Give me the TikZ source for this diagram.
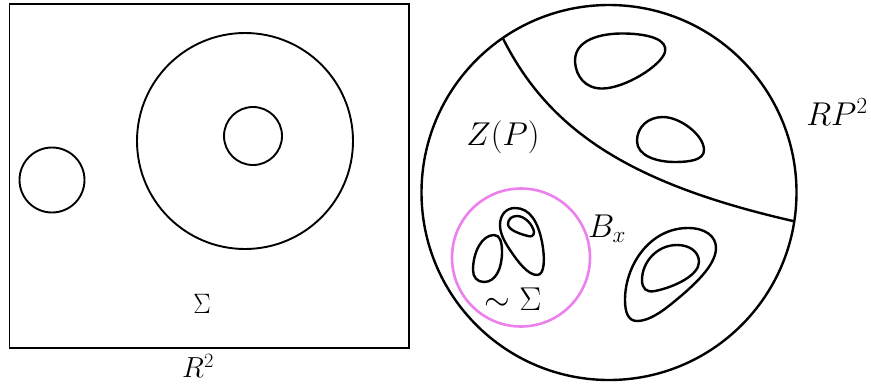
\documentclass[tikz,border=0pt]{standalone}
\usepackage{fix-cm}
\tikzset{
  curve/.style={line width=2.4pt, black},
  thin curve/.style={line width=1.9pt, black},
  pinkring/.style={line width=2.6pt, draw={rgb,255:red,236;green,128;blue,236}},
  sigmalabel/.style={inner sep=0pt, font=\fontsize{26}{31}\selectfont, yscale=1.08},
  planelabel/.style={inner sep=0pt, font=\fontsize{29}{35}\selectfont},
  biglabel/.style={inner sep=0pt, font=\fontsize{33}{40}\selectfont}
}
\begin{document}
\begin{tikzpicture}[x=1pt,y=-1pt]
\useasboundingbox (0,0) rectangle (871,386);
% left panel
\draw[thin curve] (9.5,4) rectangle (409,348);
\draw[thin curve] (52,180) circle[radius=32.5];
\draw[thin curve] (245,141) circle[radius=108];
\draw[thin curve] (253,136) circle[radius=29];
\node[planelabel] (r2) at (198,366) {$R^2$};
% right panel
\draw[curve] (609,192.5) circle[radius=187.5];
\draw[curve] (502.5,37.5) .. controls (549,131) and (631,184) .. (793,221);
% upper ovals
\draw[curve] (575,62) .. controls (574,40) and (600,33) .. (625,33.5)
  .. controls (650,34) and (668,40) .. (665,52)
  .. controls (661,66) and (625,88) .. (603,88.5)
  .. controls (585,89) and (576,76) .. (575,62) -- cycle;
\draw[curve] (637,141) .. controls (637,127) and (648,117) .. (663,117)
  .. controls (680,117) and (704,135) .. (704,150)
  .. controls (704,160) and (690,162) .. (675,162)
  .. controls (655,162) and (637,155) .. (637,141) -- cycle;
% nested ovals
\draw[curve] (625,300) .. controls (625,265) and (650,228) .. (688,228)
  .. controls (705,228) and (716,236) .. (716,248)
  .. controls (716,265) and (695,285) .. (670,305)
  .. controls (655,317) and (645,321) .. (637,321)
  .. controls (628,321) and (625,312) .. (625,300) -- cycle;
\draw[curve] (642,280) .. controls (642,262) and (657,245) .. (677,245)
  .. controls (690,245) and (699,252) .. (699,262)
  .. controls (699,275) and (675,287) .. (655,291)
  .. controls (646,293) and (642,288) .. (642,280) -- cycle;
% ball B_x
\draw[pinkring] (521,257.5) circle[radius=69];
\draw[curve] (473,270) .. controls (473,252) and (482,235) .. (494,235)
  .. controls (500,235) and (502,242) .. (502,252)
  .. controls (502,268) and (496,282) .. (484,282)
  .. controls (477,282) and (473,277) .. (473,270) -- cycle;
\draw[curve] (500,225) .. controls (500,215) and (506,208) .. (515,208)
  .. controls (530,208) and (538,222) .. (542,242)
  .. controls (545,258) and (545,275) .. (537,275)
  .. controls (528,275) and (518,262) .. (510,250)
  .. controls (504,241) and (500,233) .. (500,225) -- cycle;
\draw[curve] (508,224) .. controls (508,219) and (512,216) .. (517,216)
  .. controls (525,216) and (533,225) .. (534,232)
  .. controls (534,236) and (531,237) .. (528,236)
  .. controls (520,234) and (508,230) .. (508,224) -- cycle;
\node[biglabel] (zp) at (503,137) {$Z(P)$};
\node[biglabel] (rp2) at (837,112) {$RP^2$};
\node[biglabel] (bx) at (607,229) {$B_x$};
\node[biglabel] (simsigma) at (513,299) {$\sim\Sigma$};
\node[sigmalabel] (sigma) at (202,304) {$\Sigma$};
\end{tikzpicture}
\end{document}
